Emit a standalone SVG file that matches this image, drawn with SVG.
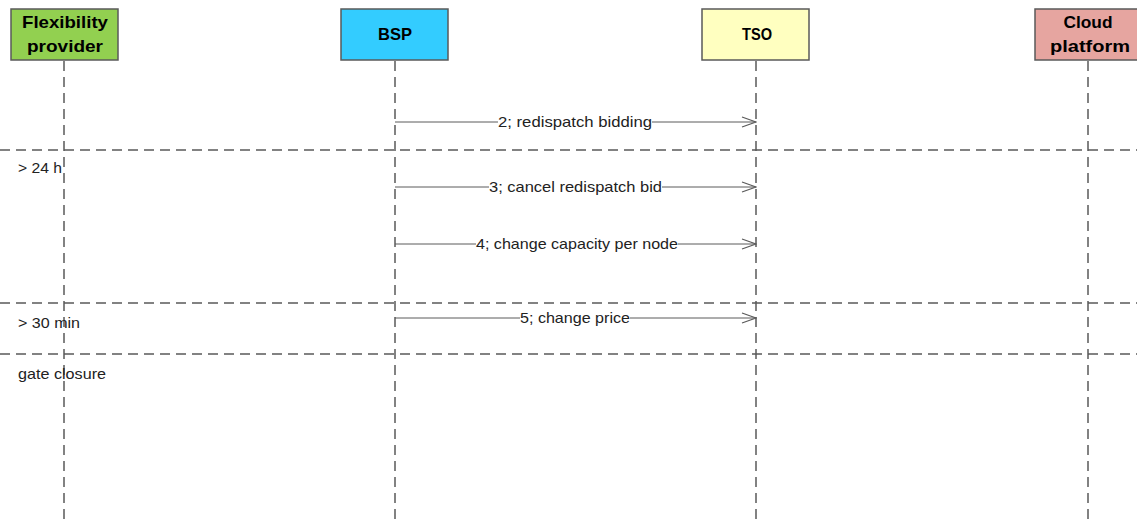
<svg xmlns="http://www.w3.org/2000/svg" width="1137" height="524" viewBox="0 0 1137 524">
<style>
.box{stroke:#5a5a5a;stroke-width:1.5}
.nt{font-family:"Liberation Sans",Arial,sans-serif;font-weight:bold;font-size:17px;fill:#000;text-anchor:middle}
.life{stroke:#5a5a5a;stroke-width:1.5;stroke-dasharray:10,6;fill:none}
.sep{stroke:#5a5a5a;stroke-width:1.5;stroke-dasharray:10,6;fill:none}
.msg{stroke:#5a5a5a;stroke-width:1;fill:none}
.ml{font-family:"Liberation Sans",Arial,sans-serif;font-size:15px;fill:#222;text-anchor:middle}
.sl{font-family:"Liberation Sans",Arial,sans-serif;font-size:15px;fill:#222}
</style>
<defs>
<marker id="arr" markerWidth="16" markerHeight="12" refX="15" refY="6" orient="auto" markerUnits="userSpaceOnUse">
<path d="M1,1 L15,6 L1,11" fill="none" stroke="#5a5a5a" stroke-width="1.2"/>
</marker>
</defs>
<rect width="1137" height="524" fill="#fff"/>
<g id="lifelines">
<line class="life" x1="64" y1="61" x2="64" y2="524"/>
<line class="life" x1="395" y1="61" x2="395" y2="524"/>
<line class="life" x1="756" y1="61" x2="756" y2="524"/>
<line class="life" x1="1088" y1="61" x2="1088" y2="524"/>
</g>
<g id="separators">
<line class="sep" x1="0" y1="150" x2="1137" y2="150"/>
<line class="sep" x1="0" y1="303" x2="1137" y2="303"/>
<line class="sep" x1="0" y1="354" x2="1137" y2="354"/>
<text class="sl" x="18" y="173" textLength="44" lengthAdjust="spacingAndGlyphs">&gt; 24 h</text>
<text class="sl" x="18" y="328" textLength="62" lengthAdjust="spacingAndGlyphs">&gt; 30 min</text>
<text class="sl" x="18" y="379" textLength="88" lengthAdjust="spacingAndGlyphs">gate closure</text>
</g>
<g id="node-flex">
<rect class="box" x="11" y="9" width="107" height="51" fill="#92D050"/>
<text class="nt" x="65" y="28" textLength="86" lengthAdjust="spacingAndGlyphs">Flexibility</text>
<text class="nt" x="65" y="52" textLength="76" lengthAdjust="spacingAndGlyphs">provider</text>
</g>
<g id="node-bsp">
<rect class="box" x="341" y="9" width="107" height="51" fill="#33CCFF"/>
<text class="nt" x="395" y="40" textLength="34" lengthAdjust="spacingAndGlyphs">BSP</text>
</g>
<g id="node-tso">
<rect class="box" x="702" y="9" width="107" height="51" fill="#FFFFC0"/>
<text class="nt" x="757" y="40" textLength="30" lengthAdjust="spacingAndGlyphs">TSO</text>
</g>
<g id="node-cloud">
<rect class="box" x="1035" y="9" width="107" height="51" fill="#E6A5A0"/>
<text class="nt" x="1088" y="28" textLength="49" lengthAdjust="spacingAndGlyphs">Cloud</text>
<text class="nt" x="1090" y="52" textLength="80" lengthAdjust="spacingAndGlyphs">platform</text>
</g>
<g id="connectors">
<line class="msg" x1="395" y1="122" x2="756" y2="122" marker-end="url(#arr)"/>
<rect x="498" y="113" width="154" height="18" fill="#fff"/>
<text class="ml" x="575" y="127" textLength="154" lengthAdjust="spacingAndGlyphs">2; redispatch bidding</text>
<line class="msg" x1="395" y1="187" x2="756" y2="187" marker-end="url(#arr)"/>
<rect x="489" y="178" width="173" height="18" fill="#fff"/>
<text class="ml" x="575.5" y="192" textLength="173" lengthAdjust="spacingAndGlyphs">3; cancel redispatch bid</text>
<line class="msg" x1="395" y1="244" x2="756" y2="244" marker-end="url(#arr)"/>
<rect x="476" y="235" width="202" height="18" fill="#fff"/>
<text class="ml" x="577" y="249" textLength="202" lengthAdjust="spacingAndGlyphs">4; change capacity per node</text>
<line class="msg" x1="395" y1="318" x2="756" y2="318" marker-end="url(#arr)"/>
<rect x="520" y="309" width="110" height="18" fill="#fff"/>
<text class="ml" x="575" y="323" textLength="110" lengthAdjust="spacingAndGlyphs">5; change price</text>
</g>
</svg>
